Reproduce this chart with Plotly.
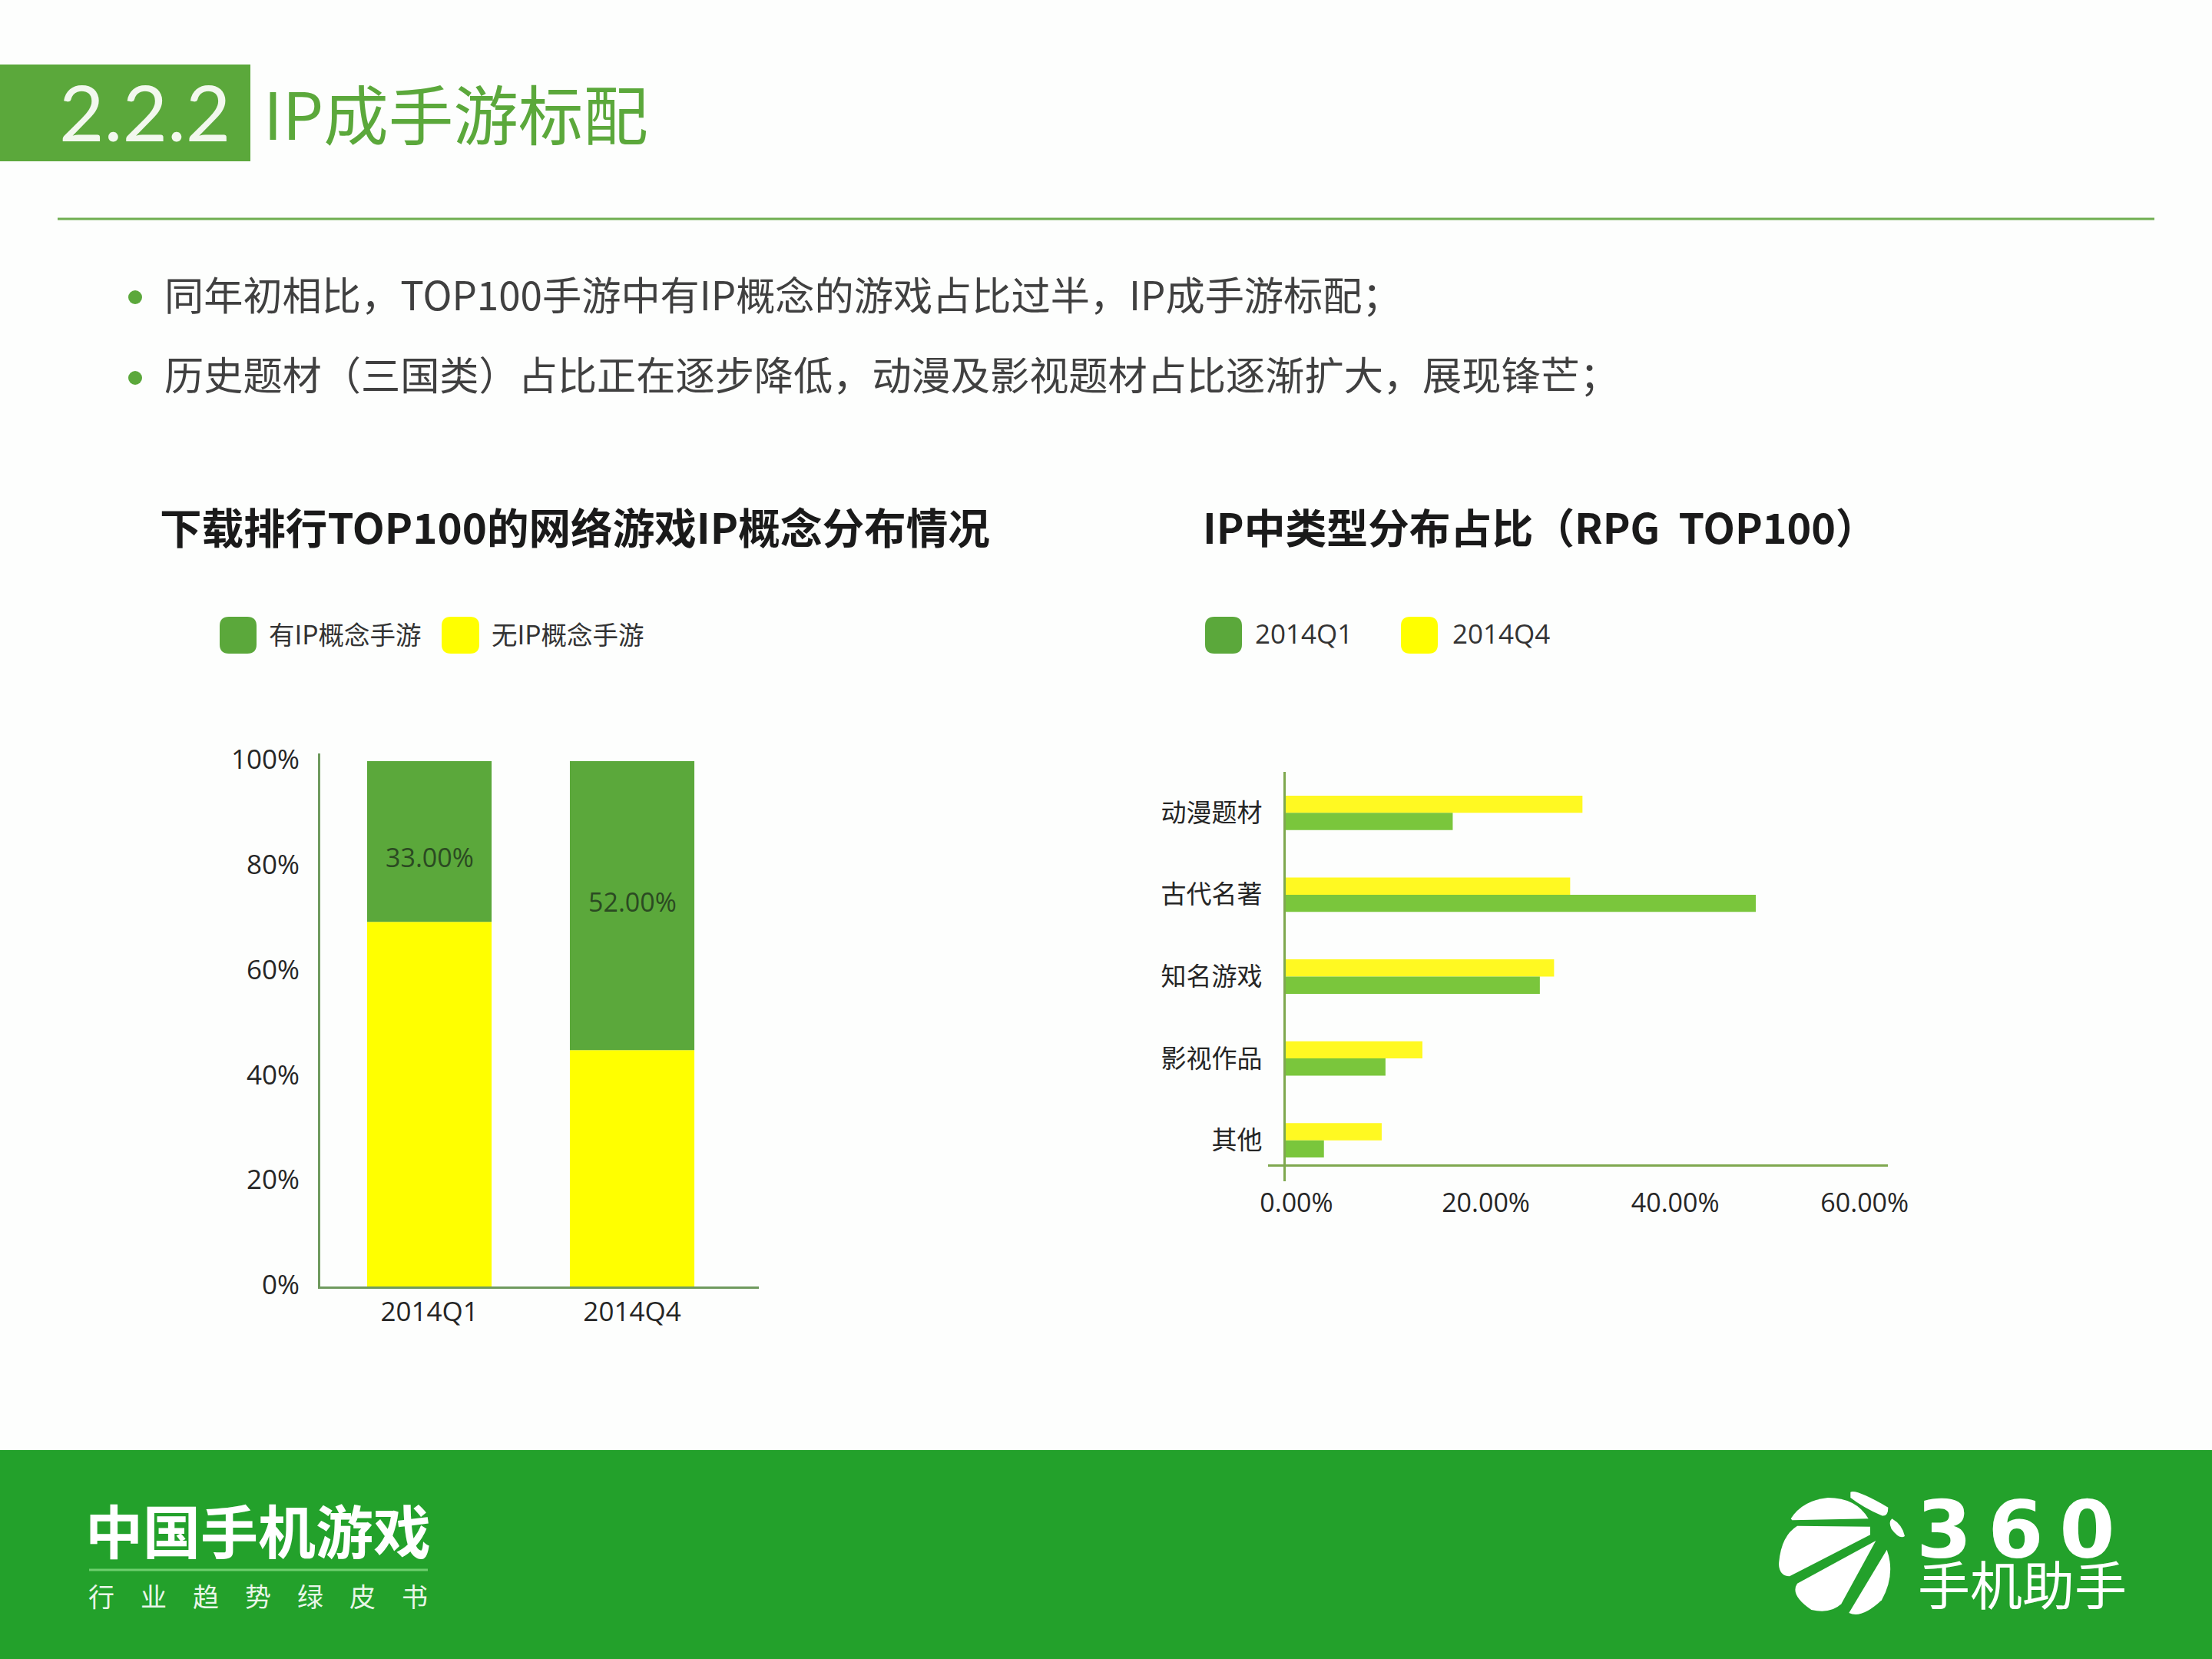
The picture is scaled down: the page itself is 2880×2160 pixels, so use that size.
import plotly.graph_objects as go

# ---------- data ----------
stack_categories = ["2014Q1", "2014Q4"]
no_ip_share = [69.4, 45.0]
with_ip_share = [30.6, 55.0]
with_ip_labels = ["33.00%", "52.00%"]

ip_types = ["动漫题材", "古代名著", "知名游戏", "影视作品", "其他"]
q4_share = [31.5, 30.2, 28.5, 14.6, 10.3]
q1_share = [17.8, 49.8, 27.0, 10.7, 4.2]

left_ticks = [0, 20, 40, 60, 80, 100]
left_tick_labels = ["0%", "20%", "40%", "60%", "80%", "100%"]
right_ticks = [0, 20, 40, 60]
right_tick_labels = ["0.00%", "20.00%", "40.00%", "60.00%"]

page_title_no = "2.2.2"
page_title = "IP成手游标配"
bullets = ["同年初相比，TOP100手游中有IP概念的游戏占比过半，IP成手游标配；",
           "历史题材（三国类）占比正在逐步降低，动漫及影视题材占比逐渐扩大，展现锋芒；"]
left_title = "下载排行TOP100的网络游戏IP概念分布情况"
right_title = "IP中类型分布占比（RPG  TOP100）"

# ---------- styles ----------
W, H = 2880, 2160
CJK = "Noto Sans CJK SC"
LATIN = "Open Sans, Noto Sans CJK SC"
GREEN = "#5BA83B"
BAR_GREEN = "#7AC63C"
YELLOW = "#FFFF00"
BAR_YELLOW = "#FFF922"
FOOT = "#23A12B"
AXIS_L = "#6F9A5E"
AXIS_R = "#7FA84F"
DARK = "#262626"
label_shift = [-20, 5]


def X(p):
    return p / W


def Y(p):
    return 1 - p / H


def rect(x0, y0, x1, y1, color):
    return dict(type="rect", xref="paper", yref="paper", x0=X(x0), x1=X(x1), y0=Y(y0), y1=Y(y1),
                fillcolor=color, line=dict(width=0), layer="below")


def hline(x0, x1, y, color, width):
    return dict(type="line", xref="paper", yref="paper", x0=X(x0), x1=X(x1), y0=Y(y), y1=Y(y),
                line=dict(color=color, width=width), layer="below")


def swatch(x0, y0, x1, y1, color, r=12):
    a, b, c, d = X(x0), X(x1), Y(y0), Y(y1)
    rx, ry = r / W, r / H
    path = (f"M{a+rx},{c} L{b-rx},{c} Q{b},{c} {b},{c-ry} L{b},{d+ry} Q{b},{d} {b-rx},{d} "
            f"L{a+rx},{d} Q{a},{d} {a},{d+ry} L{a},{c-ry} Q{a},{c} {a+rx},{c} Z")
    return dict(type="path", xref="paper", yref="paper", path=path, fillcolor=color,
                line=dict(width=0), layer="below")


def dot(cx, cy, r, color):
    return dict(type="circle", xref="paper", yref="paper", x0=X(cx - r), x1=X(cx + r), y0=Y(cy - r), y1=Y(cy + r),
                fillcolor=color, line=dict(width=0), layer="below")


def logo_piece(d):
    out = []
    for cmd, pts in d:
        out.append(cmd + " ".join(f"{X(2280 + px / 3):.5f},{Y(1920 + py / 3):.5f}" for px, py in pts))
    return dict(type="path", xref="paper", yref="paper", path=" ".join(out) + " Z",
                fillcolor="white", line=dict(width=0), layer="below")


def text(x, y, s, size, color, family=CJK, anchor="left"):
    return dict(xref="paper", yref="paper", x=X(x), y=Y(y), text=s, showarrow=False, xanchor=anchor,
                yanchor="middle", borderpad=0, font=dict(size=size, color=color, family=family))


fig = go.Figure()

fig.add_trace(go.Bar(name="无IP概念手游", x=stack_categories, y=no_ip_share, width=0.614,
                     marker=dict(color=YELLOW, line=dict(width=0)), xaxis="x", yaxis="y", showlegend=False))
fig.add_trace(go.Bar(name="有IP概念手游", x=stack_categories, y=with_ip_share, base=no_ip_share, width=0.614,
                     marker=dict(color=GREEN, line=dict(width=0)), xaxis="x", yaxis="y", showlegend=False))
fig.add_trace(go.Bar(name="2014Q4", y=ip_types, x=q4_share, orientation="h", width=0.21, offset=-0.21,
                     marker=dict(color=BAR_YELLOW, line=dict(width=0)), xaxis="x2", yaxis="y2", showlegend=False))
fig.add_trace(go.Bar(name="2014Q1", y=ip_types, x=q1_share, orientation="h", width=0.21, offset=0,
                     marker=dict(color=BAR_GREEN, line=dict(width=0)), xaxis="x2", yaxis="y2", showlegend=False))

shapes = [
    rect(0, 84, 326, 210, GREEN),
    hline(75, 2805, 285, "#6FAE50", 3),
    dot(176, 387, 9, GREEN),
    dot(176, 492, 9, GREEN),
    swatch(286, 803, 334, 851, GREEN),
    swatch(575, 803, 624, 851, YELLOW),
    swatch(1569, 803, 1617, 851, GREEN),
    swatch(1824, 803, 1872, 851, YELLOW),
    rect(0, 1888, W, H, FOOT),
    hline(116, 557, 2044, "#6FCF6F", 3),
    logo_piece([("M", [(388, 68)]), ("Q", [(410, 55), (535, 128)]), ("Q", [(535, 165), (510, 160)]),
                ("Q", [(440, 130), (388, 90)])]),
    logo_piece([("M", [(155, 172)]), ("Q", [(200, 100), (300, 90)]), ("Q", [(410, 90), (458, 172)]),
                ("L", [(160, 178)])]),
    logo_piece([("M", [(465, 203)]), ("L", [(180, 200)]), ("Q", [(115, 240), (108, 350)]),
                ("Q", [(110, 395), (150, 397)]), ("L", [(465, 235)])]),
    logo_piece([("M", [(487, 258)]), ("L", [(180, 425)]), ("Q", [(150, 470), (235, 528)]),
                ("Q", [(310, 545), (352, 505)])]),
    logo_piece([("M", [(530, 293)]), ("L", [(382, 540)]), ("Q", [(430, 565), (510, 490)]),
                ("Q", [(565, 390), (530, 293)])]),
    logo_piece([("M", [(550, 172)]), ("Q", [(590, 195), (600, 240)]), ("Q", [(580, 255), (548, 212)]),
                ("Q", [(535, 185), (550, 172)])]),
]

annotations = [
    text(76, 145, page_title_no, 101, "#F2F8EE", "Lato, Open Sans"),
    text(342, 145, page_title, 84.5, GREEN),
    text(213, 382, bullets[0], 51.2, "#404040"),
    text(213, 486, bullets[1], 51.2, "#404040"),
    text(207, 684, f"<b>{left_title}</b>", 54.6, "#1A1A1A"),
    text(1565, 684, f"<b>{right_title}</b>", 53.8, "#1A1A1A"),
    text(349, 824, "有IP概念手游", 33.5, "#333333"),
    text(639, 824, "无IP概念手游", 33.5, "#333333"),
    text(1633, 824, "2014Q1", 35, "#333333", LATIN),
    text(1890, 824, "2014Q4", 35, "#333333", LATIN),
    text(110, 1990, "<b>中国手机游戏</b>", 75, "white"),
    text(114, 2077, "行\u3000业\u3000趋\u3000势\u3000绿\u3000皮\u3000书", 34, "#E8F6E8"),
    text(2494, 1992, "<b>3\u20096\u20090</b>", 104, "white", "DejaVu Sans"),
    text(2496, 2060, "手机助手", 68, "white"),
]
for cat, low, high, lab, shift in zip(stack_categories, no_ip_share, with_ip_share, with_ip_labels, label_shift):
    annotations.append(dict(xref="x", yref="y", x=cat, y=low + high / 2, text=lab, showarrow=False, yshift=shift,
                            font=dict(size=34, color="#2B4A22", family=LATIN)))

fig.update_layout(
    template="none",
    width=W, height=H, autosize=False, margin=dict(l=0, r=0, t=0, b=0, pad=0),
    paper_bgcolor="#FDFEFD", plot_bgcolor="rgba(0,0,0,0)",
    barmode="overlay", showlegend=False, shapes=shapes, annotations=annotations,
    font=dict(family=LATIN, color=DARK, size=36),
    xaxis=dict(domain=[X(417), X(988)], range=[-0.538, 1.625], type="category", automargin=False,
               categoryorder="array", categoryarray=stack_categories, anchor="y",
               showline=True, linecolor=AXIS_L, linewidth=3, ticks="", showgrid=False, zeroline=False,
               ticklabelstandoff=0, tickfont=dict(size=35, family=LATIN, color=DARK)),
    yaxis=dict(domain=[Y(1675), Y(981)], range=[0, 101.46], anchor="x", automargin=False,
               tickvals=left_ticks, ticktext=left_tick_labels, showline=True, linecolor=AXIS_L, linewidth=3, ticks="",
               showgrid=False, zeroline=False, ticklabelstandoff=17, ticklabelshift=-2,
               tickfont=dict(size=35, family=LATIN, color=DARK)),
    xaxis2=dict(domain=[X(1651), X(2458)], range=[-1.70, 63.75], anchor="free", position=Y(1517), automargin=False,
                tickvals=right_ticks, ticktext=right_tick_labels, showline=True, linecolor=AXIS_R, linewidth=3,
                ticks="", showgrid=False, zeroline=False, ticklabelstandoff=18, ticklabelshift=16,
                tickfont=dict(size=34, family=LATIN, color=DARK)),
    yaxis2=dict(domain=[Y(1538), Y(1005)], type="category", categoryorder="array", categoryarray=ip_types,
                autorange="reversed", anchor="free", position=X(1672), showline=True, linecolor=AXIS_R, linewidth=3,
                ticks="", showgrid=False, zeroline=False, ticklabelstandoff=21, automargin=False,
                tickfont=dict(size=33, family=CJK, color=DARK)),
)

fig.write_html("out.html", post_script="document.body.style.margin='0';", config=dict(displayModeBar=False))
